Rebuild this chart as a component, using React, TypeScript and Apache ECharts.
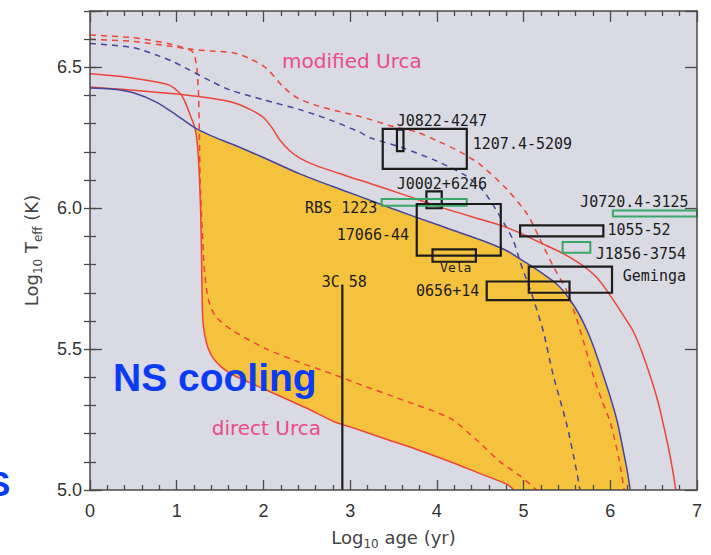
import React, { useEffect, useRef } from "react";
import * as echarts from "echarts";

// Cooling tracks: [log10 age (yr), log10 Teff (K)]
const standardCooling: number[][] = [
  [0, 6.427], [0.25, 6.423], [0.5, 6.41], [0.77, 6.376], [1.0, 6.33], [1.21, 6.285],
  [1.4, 6.257], [1.65, 6.226], [2.0, 6.18], [2.42, 6.122], [2.8, 6.077], [3.11, 6.042],
  [3.5, 5.997], [4.0, 5.942], [4.5, 5.888], [4.8, 5.85], [5.0, 5.812], [5.2, 5.772],
  [5.4, 5.726], [5.5, 5.69], [5.6, 5.645], [5.7, 5.588], [5.8, 5.515], [5.9, 5.425],
  [6.0, 5.33], [6.08, 5.243], [6.15, 5.14], [6.2, 5.06], [6.23, 5.0],
];
const slowCooling: number[][] = [
  [0, 6.43], [0.4, 6.421], [0.8, 6.411], [1.08, 6.403], [1.4, 6.39], [1.65, 6.375],
  [1.85, 6.35], [2.0, 6.322], [2.1, 6.285], [2.19, 6.242], [2.3, 6.205], [2.42, 6.178],
  [2.6, 6.152], [2.81, 6.13], [3.0, 6.11], [3.23, 6.088], [3.6, 6.05], [4.04, 6.004],
  [4.4, 5.97], [4.73, 5.94], [4.96, 5.912], [5.19, 5.878], [5.45, 5.84], [5.69, 5.795],
  [5.85, 5.752], [6.0, 5.69], [6.15, 5.62], [6.27, 5.56], [6.4, 5.46], [6.54, 5.325],
  [6.65, 5.18], [6.72, 5.07], [6.755, 5.0],
];
const directUrca: number[][] = [
  [0, 6.477], [0.4, 6.466], [0.77, 6.448], [0.92, 6.436], [1.04, 6.407], [1.1, 6.375],
  [1.15, 6.335], [1.21, 6.285], [1.24, 6.22], [1.26, 6.12], [1.275, 6.0], [1.285, 5.85],
  [1.292, 5.7], [1.3, 5.61], [1.32, 5.555], [1.36, 5.505], [1.42, 5.468], [1.52, 5.435],
  [1.65, 5.408], [2.04, 5.354], [2.5, 5.29], [2.81, 5.243], [3.0, 5.224], [3.4, 5.182],
  [3.77, 5.144], [4.2, 5.095], [4.5, 5.058], [4.81, 5.02], [4.89, 5.0],
];
const modifiedUrcaDashed: number[][] = [
  [0, 6.615], [0.5, 6.605], [0.9, 6.585], [1.15, 6.565], [1.4, 6.558], [1.65, 6.552],
  [1.85, 6.53], [2.04, 6.495], [2.23, 6.43], [2.4, 6.39], [2.61, 6.365], [2.85, 6.345],
  [3.11, 6.326], [3.5, 6.29], [3.77, 6.27], [4.0, 6.24], [4.27, 6.2], [4.5, 6.155],
  [4.8, 6.07], [5.04, 5.98], [5.19, 5.89], [5.34, 5.795], [5.5, 5.705], [5.65, 5.57],
  [5.8, 5.41], [5.9, 5.32], [6.0, 5.24], [6.1, 5.11], [6.16, 5.0],
];
const directUrcaDashed: number[][] = [
  [0, 6.6], [0.5, 6.592], [0.9, 6.576], [1.15, 6.562], [1.2, 6.548], [1.23, 6.5],
  [1.25, 6.42], [1.26, 6.3], [1.27, 6.1], [1.29, 5.95], [1.315, 5.8], [1.34, 5.72],
  [1.38, 5.66], [1.45, 5.615], [1.65, 5.565], [2.04, 5.5], [2.4, 5.455], [2.81, 5.41],
  [3.11, 5.375], [3.6, 5.32], [4.15, 5.255], [4.45, 5.18], [4.73, 5.1], [4.96, 5.05],
  [5.15, 5.0],
];
const standardDashed: number[][] = [
  [0, 6.585], [0.5, 6.57], [0.8, 6.54], [0.96, 6.52], [1.15, 6.49], [1.4, 6.45],
  [1.61, 6.42], [2.0, 6.385], [2.42, 6.35], [2.8, 6.31], [3.11, 6.27], [3.23, 6.25],
  [3.61, 6.214], [4.0, 6.167], [4.31, 6.12], [4.5, 6.074], [4.61, 6.03], [4.73, 5.97],
  [4.88, 5.887], [4.96, 5.81], [5.1, 5.69], [5.23, 5.56], [5.34, 5.41], [5.5, 5.23],
  [5.61, 5.07], [5.65, 5.0],
];

// Observed neutron stars: age and temperature ranges
const sourceNames = [
  "1207.4-5209", "J0822-4247", "J0002+6246", "RBS 1223", "17066-44", "Vela",
  "0656+14", "Geminga", "1055-52", "J1856-3754", "J0720.4-3125",
];
const ageLow = [3.376, 3.54, 3.88, 3.364, 3.768, 3.95, 4.575, 5.06, 4.96, 5.45, 6.03];
const ageHigh = [4.345, 3.615, 4.056, 4.345, 4.737, 4.45, 5.53, 6.02, 5.92, 5.77, 7.0];
const tempLow = [6.14, 6.203, 6.0, 6.009, 5.832, 5.81, 5.674, 5.7, 5.9, 5.842, 5.971];
const tempHigh = [6.282, 6.279, 6.06, 6.033, 6.015, 5.854, 5.74, 5.793, 5.939, 5.88, 5.992];
const isolatedSources = ["RBS 1223", "J1856-3754", "J0720.4-3125"];

// Name tags for the sources, anchored in data coordinates (left edge, middle)
const tagText = [
  "J0822-4247", "1207.4-5209", "J0002+6246", "RBS 1223", "17066-44", "Vela",
  "0656+14", "Geminga", "1055-52", "J1856-3754", "J0720.4-3125", "3C 58",
];
const tagAge = [3.537, 4.414, 3.537, 2.48, 2.846, 4.037, 3.76, 6.144, 5.967, 5.833, 5.652, 2.672];
const tagTemp = [6.309, 6.229, 6.085, 6.001, 5.905, 5.79, 5.705, 5.761, 5.922, 5.838, 6.021, 5.738];

// 3C 58: age with an upper temperature limit
const limit3C58: number[][] = [[2.91, 5.0], [2.91, 5.729]];

// Process labels
const processText = ["modified Urca", "direct Urca"];
const processAge = [2.215, 1.404];
const processTemp = [6.527, 5.223];

const xTicks = [0, 1, 2, 3, 4, 5, 6, 7];
const yLabelTicks = [5.0, 5.5, 6.0, 6.5];

const RED = "#ee4438";
const BLUE = "#45459e";
const YELLOW = "#f5c23d";
const GREEN = "#38a868";
const INK = "#1c1c1c";
const AXIS = "#4a4a4a";
const PINK = "#ea4b8c";
const PLOT_BG = "#d9dae3";

const fillPolygon = [
  ...standardCooling.filter((p) => p[0] >= 1.21),
  ...directUrca.filter((p) => p[0] >= 1.21).reverse(),
];

const axisLineStyle = { color: AXIS, width: 1.5 };
const tickLineStyle = { color: AXIS, width: 1.3 };

function curve(data: number[][], color: string, dashed: boolean) {
  return {
    type: "line",
    data,
    xAxisIndex: 0,
    yAxisIndex: 0,
    symbol: "none",
    smooth: 0.25,
    silent: true,
    z: 3,
    lineStyle: { color, width: 1.5, type: dashed ? [6, 5] : "solid" },
  };
}

function yLabel(v: number) {
  return yLabelTicks.some((t) => Math.abs(t - v) < 1e-6) ? v.toFixed(1) : "";
}

const titleRich = {
  a: { fontSize: 18, lineHeight: 26, fontFamily: "DejaVu Sans", color: "#444" },
  s: { fontSize: 12, lineHeight: 12, verticalAlign: "bottom", fontFamily: "DejaVu Sans", color: "#444" },
};

const option: any = {
  animation: false,
  grid: {
    left: 90,
    right: 14,
    top: 11,
    bottom: 59,
    show: true,
    backgroundColor: PLOT_BG,
    borderWidth: 0,
  },
  xAxis: [
    {
      type: "value",
      position: "bottom",
      min: xTicks[0],
      max: xTicks[xTicks.length - 1],
      interval: 1,
      z: 10,
      axisLine: { show: true, onZero: false, lineStyle: axisLineStyle },
      axisTick: { show: true, inside: true, length: 10, lineStyle: tickLineStyle },
      minorTick: { show: true, splitNumber: 5, length: 5, lineStyle: tickLineStyle },
      splitLine: { show: false },
      axisLabel: {
        margin: 12,
        fontSize: 18,
        color: "#333",
        fontFamily: "Liberation Sans, Arial, sans-serif",
      },
      name: "{a|Log}{s|10}{a| age (yr)}",
      nameLocation: "middle",
      nameGap: 34,
      nameTextStyle: { color: "#444", fontFamily: "DejaVu Sans", rich: titleRich },
    },
    {
      type: "value",
      position: "top",
      min: 0,
      max: 7,
      interval: 1,
      z: 10,
      axisLine: { show: true, onZero: false, lineStyle: axisLineStyle },
      axisTick: { show: true, inside: true, length: 11, lineStyle: tickLineStyle },
      minorTick: { show: true, splitNumber: 5, length: 5, lineStyle: tickLineStyle },
      splitLine: { show: false },
      axisLabel: { show: false },
    },
  ],
  yAxis: [
    {
      type: "value",
      position: "left",
      min: 5.0,
      max: 6.7,
      interval: 0.5,
      z: 10,
      axisLine: { show: true, onZero: false, lineStyle: axisLineStyle },
      axisTick: { show: true, inside: true, length: 12, lineStyle: tickLineStyle },
      splitLine: { show: false },
      axisLabel: {
        margin: 8,
        fontSize: 18,
        color: "#333",
        fontFamily: "Liberation Sans, Arial, sans-serif",
        formatter: yLabel,
      },
      name: "{a|Log}{s|10}{a| T}{s|eff}{a| (K)}",
      nameLocation: "middle",
      nameGap: 46,
      nameTextStyle: { color: "#444", fontFamily: "DejaVu Sans", rich: titleRich },
    },
    {
      type: "value",
      position: "left",
      min: 5.0,
      max: 6.7,
      interval: 0.1,
      z: 10,
      axisLine: { show: false },
      axisTick: { show: true, inside: true, length: 6, lineStyle: tickLineStyle },
      splitLine: { show: false },
      axisLabel: { show: false },
    },
    {
      type: "value",
      position: "right",
      min: 5.0,
      max: 6.7,
      interval: 0.5,
      z: 10,
      axisLine: { show: true, onZero: false, lineStyle: axisLineStyle },
      axisTick: { show: true, inside: true, length: 12, lineStyle: tickLineStyle },
      splitLine: { show: false },
      axisLabel: { show: false },
    },
    {
      type: "value",
      position: "right",
      min: 5.0,
      max: 6.7,
      interval: 0.1,
      z: 10,
      axisLine: { show: false },
      axisTick: { show: true, inside: true, length: 6, lineStyle: tickLineStyle },
      splitLine: { show: false },
      axisLabel: { show: false },
    },
  ],
  series: [
    {
      type: "custom",
      name: "cooling band",
      xAxisIndex: 0,
      yAxisIndex: 0,
      silent: true,
      z: 1,
      data: [[0, 5]],
      renderItem: (_params: any, api: any) => ({
        type: "polygon",
        shape: { points: fillPolygon.map((p) => api.coord(p)) },
        style: { fill: YELLOW },
      }),
    },
    curve(modifiedUrcaDashed, RED, true),
    curve(directUrcaDashed, RED, true),
    curve(standardDashed, BLUE, true),
    curve(slowCooling, RED, false),
    curve(directUrca, RED, false),
    curve(standardCooling, BLUE, false),
    {
      type: "line",
      data: limit3C58,
      xAxisIndex: 0,
      yAxisIndex: 0,
      symbol: "none",
      silent: true,
      z: 4,
      lineStyle: { color: INK, width: 2.2 },
    },
    {
      type: "custom",
      name: "sources",
      xAxisIndex: 0,
      yAxisIndex: 0,
      silent: true,
      z: 5,
      encode: { x: [0, 1], y: [2, 3] },
      data: sourceNames.map((_, i) => [ageLow[i], ageHigh[i], tempLow[i], tempHigh[i]]),
      renderItem: (params: any, api: any) => {
        const a = api.coord([api.value(0), api.value(3)]);
        const b = api.coord([api.value(1), api.value(2)]);
        const green = isolatedSources.includes(sourceNames[params.dataIndex]);
        return {
          type: "rect",
          shape: { x: a[0], y: a[1], width: b[0] - a[0], height: b[1] - a[1] },
          style: { fill: "none", stroke: green ? GREEN : INK, lineWidth: green ? 2 : 2.2 },
        };
      },
    },
    {
      type: "custom",
      name: "tags",
      xAxisIndex: 0,
      yAxisIndex: 0,
      silent: true,
      z: 6,
      data: tagText.map((_, i) => [tagAge[i], tagTemp[i]]),
      renderItem: (params: any, api: any) => {
        const p = api.coord([api.value(0), api.value(1)]);
        const text = tagText[params.dataIndex];
        return {
          type: "text",
          x: p[0],
          y: p[1],
          style: {
            text,
            fill: INK,
            fontSize: text === "Vela" ? 13 : 15,
            fontFamily: "DejaVu Sans Mono",
            align: "left",
            verticalAlign: "middle",
          },
        };
      },
    },
    {
      type: "custom",
      name: "processes",
      xAxisIndex: 0,
      yAxisIndex: 0,
      silent: true,
      z: 6,
      data: processText.map((_, i) => [processAge[i], processTemp[i]]),
      renderItem: (params: any, api: any) => {
        const p = api.coord([api.value(0), api.value(1)]);
        return {
          type: "text",
          x: p[0],
          y: p[1] + 1,
          style: {
            text: processText[params.dataIndex],
            fill: PINK,
            fontSize: 20,
            fontFamily: "DejaVu Sans",
            align: "left",
            verticalAlign: "middle",
          },
        };
      },
    },
  ],
  graphic: [
    {
      type: "text",
      x: 113,
      y: 377,
      z: 100,
      style: {
        text: "NS cooling",
        fill: "#0b3cf5",
        font: 'bold 39px "Liberation Sans", Arial, sans-serif',
        align: "left",
        verticalAlign: "middle",
      },
    },
    {
      type: "text",
      x: -13,
      y: 483,
      z: 100,
      style: {
        text: "S",
        fill: "#0b3cf5",
        font: 'bold 35px "Liberation Sans", Arial, sans-serif',
        align: "left",
        verticalAlign: "middle",
      },
    },
  ],
};

export default function App() {
  const ref = useRef<HTMLDivElement>(null);
  useEffect(() => {
    const chart = echarts.init(ref.current!, null, { renderer: "svg" });
    chart.setOption(option);
    return () => chart.dispose();
  }, []);
  return (
    <div
      ref={ref}
      style={{ position: "absolute", left: 0, top: 0, width: 711, height: 555, background: "#fff" }}
    />
  );
}
